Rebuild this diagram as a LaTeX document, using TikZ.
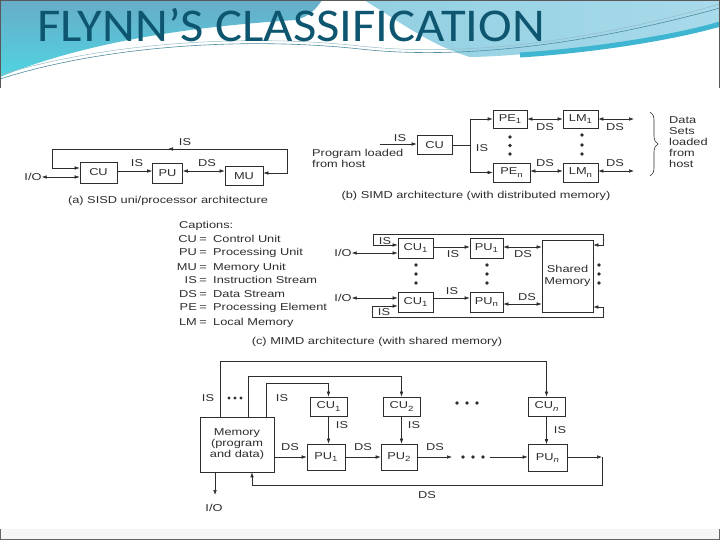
\documentclass[tikz,border=0pt]{standalone}
\usepackage{fontspec}
\setmainfont{Liberation Sans}
\newfontfamily\titlefont[FakeStretch=1.08]{Carlito}
\newfontfamily\diag[FakeStretch=1.28]{Liberation Sans}
\usetikzlibrary{arrows.meta,decorations.pathreplacing}
\definecolor{ink}{RGB}{45,45,45}
\definecolor{titleblue}{RGB}{14,86,112}
\definecolor{hdtop}{RGB}{104,172,200}
\definecolor{hdcyan}{RGB}{80,212,224}
\definecolor{hdlbA}{RGB}{146,208,226}
\definecolor{hdlbB}{RGB}{168,218,234}
\definecolor{hdband}{RGB}{62,182,210}
\definecolor{hdline}{RGB}{80,140,160}
\newcommand\subx[1]{\raisebox{-0.45ex}{\fontsize{7.5}{8}\selectfont #1}}
\tikzset{
  box/.style={draw=ink, line width=0.65pt, inner sep=0pt, text=ink, align=center},
  lbl/.style={text=ink, inner sep=0pt},
  ln/.style={draw=ink, line width=0.6pt},
  arr/.style={draw=ink, line width=0.6pt, -{Latex[length=5pt,width=3.6pt]}},
  darr/.style={draw=ink, line width=0.6pt, {Latex[length=5pt,width=3.6pt]}-{Latex[length=5pt,width=3.6pt]}}
}
\begin{document}
\begin{tikzpicture}[x=1pt,y=-1pt,font=\diag\fontsize{10}{11}\selectfont]
\useasboundingbox (0,0) rectangle (720,540);
\fill[white] (0,0) rectangle (720,540);
% ---------- header ----------
\shade[top color=hdtop, bottom color=hdcyan] (0,0) -- (322,0) .. controls (316,9) and (310,16) .. (296,20) .. controls (200,26) and (90,40) .. (0,77) -- cycle;
\shade[left color=hdlbA, right color=hdlbB] (364,0) -- (720,0) -- (720,27) .. controls (640,40) and (540,56) .. (470,57) .. controls (430,45) and (400,22) .. (364,0) -- cycle;
\draw[hdband, line width=5pt] (520,55) .. controls (600,50) and (680,36) .. (720,24);
\draw[hdline, line width=0.6pt] (0,79) .. controls (100,47) and (240,36) .. (360,49) .. controls (440,58) and (560,52) .. (720,8);
\draw[hdline!60, line width=0.5pt] (0,75) .. controls (100,44) and (240,33) .. (360,46) .. controls (440,55) and (560,50) .. (720,4);
\draw[gray!70!black, line width=0.8pt] (0.4,88) -- (0.4,0.4) -- (719.6,0.4) -- (719.6,88);
\node[anchor=base west, inner sep=0pt, text=titleblue, font=\titlefont\fontsize{47}{50}\selectfont] (title) at (37,42) {FLYNN’S CLASSIFICATION};
% bottom band
\fill[gray!7] (0,529) rectangle (720,539.4);
\draw[gray!80!black, line width=0.8pt] (0.4,529) -- (0.4,539.4) -- (719.6,539.4) -- (719.6,529);

% ---------- (a) SISD ----------
\node[box,minimum width=37pt,minimum height=21pt] (acu) at (98.5,172.5) {CU};
\node[box,minimum width=30pt,minimum height=20pt] (apu) at (167.5,173) {PU};
\node[box,minimum width=38pt,minimum height=19pt] (amu) at (244,176) {MU};
\node[lbl] (aio) at (33,177) {I/O};
\draw[darr] (aio.east) -- (acu.west|-aio.east);
\draw[arr] (acu.east|-0,171) -- (apu.west|-0,171);
\draw[darr] (apu.east|-0,171) -- (amu.west|-0,171);
\draw[darr] (acu.west|-0,168) -- (52,168) -- (52,149) -- (287,149) -- (287,173) -- (amu.east|-0,173);
\draw[arr] (182,149) -- (168,149);
\node[lbl] (ais1) at (185,142) {IS};
\node[lbl] (ais2) at (137,163) {IS};
\node[lbl] (ads1) at (207,163) {DS};
\node[lbl] (acap) at (168,201) {(a) SISD uni/processor architecture};

% ---------- (b) SIMD ----------
\node[box,minimum width=35pt,minimum height=19pt] (bcu) at (434.5,145) {CU};
\node[box,minimum width=34pt,minimum height=18pt] (bpe1) at (510,119) {PE\subx{1}};
\node[box,minimum width=37pt,minimum height=19pt] (bpen) at (511.5,172.5) {PE\subx{n}};
\node[box,minimum width=35pt,minimum height=18pt] (blm1) at (580.5,119) {LM\subx{1}};
\node[box,minimum width=35pt,minimum height=19pt] (blmn) at (580.5,172.5) {LM\subx{n}};
\coordinate (bin) at (380,144);
\draw[arr] (bin) -- (bcu.west|-bin);
\node[lbl] (bis1) at (400,138) {IS};
\node[lbl,align=left,anchor=west] (bprog) at (312,158) {Program loaded\\from host};
\coordinate (bsplit) at (470,145);
\draw[ln] (bcu.east) -- (bsplit);
\draw[arr] (bsplit) |- (bpe1.west);
\draw[arr] (bsplit) |- (bpen.west);
\node[lbl] (bis2) at (482,148) {IS};
\foreach \yy in {137,145.5,154} {\fill[ink] (510,\yy) circle (1.8);}
\foreach \yy in {135,145,154} {\fill[ink] (582,\yy) circle (1.8);}
\draw[darr] (bpe1.east) -- (blm1.west);
\draw[darr] (bpen.east|-0,171) -- (blmn.west|-0,171);
\coordinate (bo1) at (634,119);
\coordinate (bon) at (634,171);
\draw[darr] (blm1.east) -- (bo1);
\draw[darr] (blmn.east|-bon) -- (bon);
\node[lbl] (bds1) at (545,127) {DS};
\node[lbl] (bds2) at (545,163) {DS};
\node[lbl] (bds3) at (615,127) {DS};
\node[lbl] (bds4) at (615,163) {DS};
\draw[ink, line width=0.6pt, decorate, decoration={brace,amplitude=8pt}] (650,112) -- (650,176);
\node[lbl,align=left,anchor=west] (bdata) at (669,142) {Data\\Sets\\loaded\\from\\host};
\node[lbl] (bcap) at (476,196) {(b) SIMD architecture (with distributed memory)};

% ---------- captions ----------
\node[lbl,anchor=base west] (capt) at (179,228.6) {Captions:};
\foreach \ab/\de/\yy [count=\i] in {CU/Control Unit/239, PU/Processing Unit/252, MU/Memory Unit/267, IS/Instruction Stream/280, DS/Data Stream/294, PE/Processing Element/307, LM/Local Memory/322} {
  \node[lbl,anchor=base east] (cab\i) at (197,\yy+3.6) {\ab};
  \node[lbl,anchor=base] (ceq\i) at (203,\yy+3.6) {=};
  \node[lbl,anchor=base west] (cde\i) at (213,\yy+3.6) {\de};
}

% ---------- (c) MIMD shared memory ----------
\node[box,minimum width=35pt,minimum height=20pt] (ccu1) at (415.5,248) {CU\subx{1}};
\node[box,minimum width=33pt,minimum height=20pt] (cpu1) at (486.5,248) {PU\subx{1}};
\node[box,minimum width=51pt,minimum height=72pt] (csm) at (567.5,276) {Shared\\[1pt]Memory};
\node[box,minimum width=35pt,minimum height=20pt] (ccu2) at (415.5,302) {CU\subx{1}};
\node[box,minimum width=33pt,minimum height=20pt] (cpun) at (486.5,302) {PU\subx{n}};
\node[lbl] (cio1) at (343,253) {I/O};
\node[lbl] (cio2) at (343,298) {I/O};
\draw[darr] (cio1.east) -- (ccu1.west|-cio1.east);
\draw[darr] (cio2.east) -- (ccu2.west|-cio2.east);
\draw[darr] (ccu1.west|-0,245) -- (373,245) -- (373,234) -- (603,234) -- (603,245) -- (csm.east|-0,245);
\draw[arr] (ccu1.east|-0,247) -- (cpu1.west|-0,247);
\draw[darr] (cpu1.east|-0,247) -- (csm.west|-0,247);
\draw[arr] (ccu2.east|-0,298) -- (cpun.west|-0,298);
\draw[darr] (cpun.east|-0,304) -- (csm.west|-0,304);
\draw[darr] (ccu2.west|-0,306) -- (372,306) -- (372,317) -- (603,317) -- (603,307) -- (csm.east|-0,307);
\node[lbl] (cis1) at (385,241) {IS};
\node[lbl] (cis2) at (453,254) {IS};
\node[lbl] (cds1) at (523,254) {DS};
\node[lbl] (cis3) at (452,291) {IS};
\node[lbl] (cds2) at (527,297) {DS};
\node[lbl] (cis4) at (384,312) {IS};
\foreach \yy in {265,274,283} {\fill[ink] (416,\yy) circle (1.8); \fill[ink] (487,\yy) circle (1.8); \fill[ink] (599,\yy) circle (1.8);}
\node[lbl] (ccap) at (377,342) {(c) MIMD architecture (with shared memory)};

% ---------- (d) MIMD distributed ----------
\node[box,minimum width=74pt,minimum height=55pt] (dmem) at (237,444.5) {Memory\\(program\\and data)};
\node[box,minimum width=37pt,minimum height=19pt] (dcu1) at (328.5,406.5) {CU\subx{1}};
\node[box,minimum width=37pt,minimum height=19pt] (dcu2) at (401.5,406.5) {CU\subx{2}};
\node[box,minimum width=37pt,minimum height=19pt] (dcun) at (546.5,406.5) {CU\subx{\itshape n}};
\node[box,minimum width=38pt,minimum height=26pt] (dpu1) at (326,457) {PU\subx{1}};
\node[box,minimum width=36pt,minimum height=26pt] (dpu2) at (399,457) {PU\subx{2}};
\node[box,minimum width=39pt,minimum height=27pt] (dpun) at (547.5,458) {PU\subx{\itshape n}};
\draw[arr] (dmem.north-|220,0) -- (220,361) -| (dcun.north);
\draw[arr] (dmem.north-|248,0) -- (248,376) -| (dcu2.north);
\draw[arr] (dmem.north-|266,0) -- (266,383) -| (dcu1.north);
\node[lbl] (dis1) at (208,398) {IS};
\node[lbl] (dis2) at (282,398) {IS};
\foreach \xx in {229,235,241} {\fill[ink] (\xx,398) circle (1.6);}
\draw[arr] (dcu1.south) -- (dcu1.south|-dpu1.north);
\draw[arr] (dcu2.south) -- (dcu2.south|-dpu2.north);
\draw[arr] (dcun.south) -- (dcun.south|-dpun.north);
\node[lbl] (dis3) at (342,425) {IS};
\node[lbl] (dis4) at (414,425) {IS};
\node[lbl] (dis5) at (560,430) {IS};
\draw[arr] (dmem.east|-0,457) -- (dpu1.west|-0,457);
\draw[arr] (dpu1.east|-0,457) -- (dpu2.west|-0,457);
\coordinate (dd1) at (452,457);
\coordinate (dd2) at (490,457);
\draw[arr] (dpu2.east|-dd1) -- (dd1);
\draw[arr] (dd2) -- (dpun.west|-dd2);
\foreach \xx in {463,473,483} {\fill[ink] (\xx,457) circle (1.8);}
\foreach \xx in {457,467,477} {\fill[ink] (\xx,403) circle (1.8);}
\coordinate (dr) at (602,457);
\draw[arr] (dpun.east|-dr) -- (dr);
\draw[arr] (dr) -- (602,485) -- (252,485) -- (dmem.south-|252,0);
\node[lbl] (dds1) at (290,447) {DS};
\node[lbl] (dds2) at (363,447) {DS};
\node[lbl] (dds3) at (435,447) {DS};
\node[lbl] (dds4) at (427,495) {DS};
\node[lbl] (dio) at (214,508) {I/O};
\coordinate (dioa) at (215,495);
\draw[arr] (dmem.south-|dioa) -- (dioa);
\end{tikzpicture}
\end{document}
